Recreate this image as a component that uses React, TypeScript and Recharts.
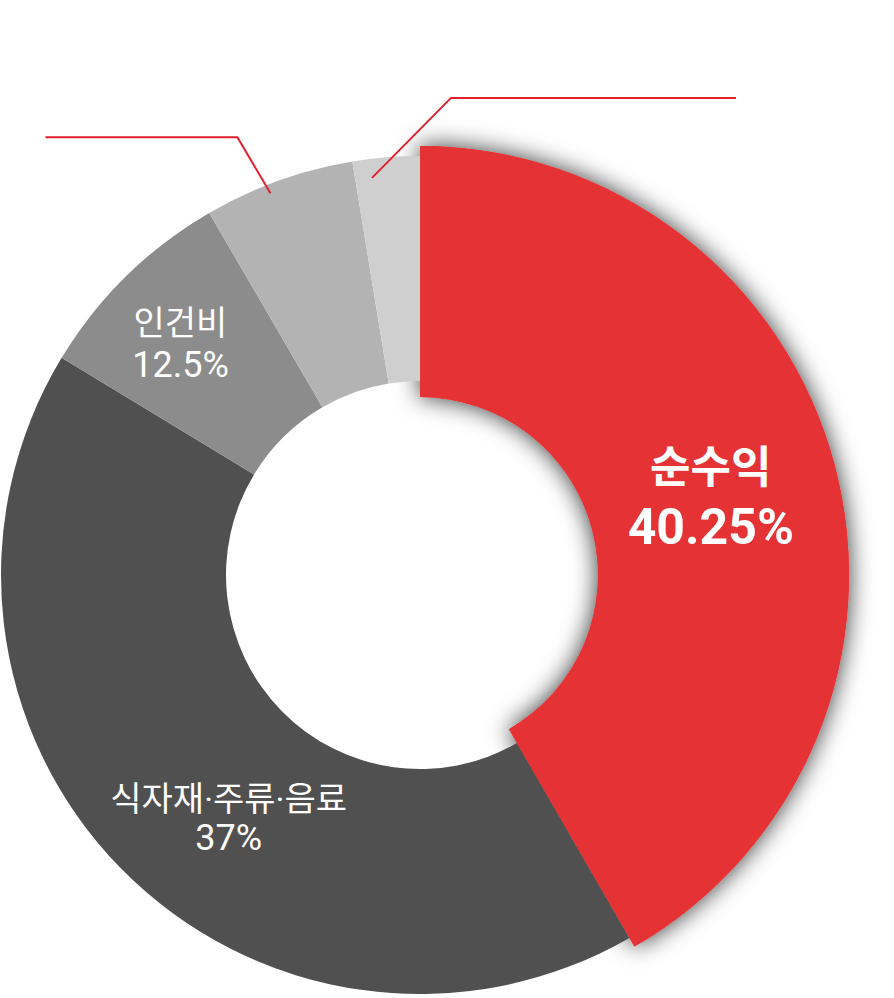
import React from 'react';
import { PieChart, Pie, Cell } from 'recharts';

const categories = ['순수익', '식자재·주류·음료', '인건비', '기타 A', '기타 B'];
const values = [41.67, 42.0, 7.94, 5.81, 2.58];
const percentLabels = ['40.25%', '37%', '12.5%', '', ''];
const colors = ['#e53335', '#505050', '#8c8c8c', '#b3b3b3', '#cfcfcf'];

const data = categories.map((name, i) => ({ name, value: values[i], pct: percentLabels[i] }));

const RAD = Math.PI / 180;
const FONT = 'Roboto, "Noto Sans CJK KR", "Noto Sans", sans-serif';

// label layout (radius, angle shift, font settings)
const textLayout: Record<number, { r: number; shift: number; size: number; size2: number; weight: number; weight2: number; gap: number }> = {
  0: { r: 301, shift: 0, size: 44, size2: 50, weight: 700, weight2: 700, gap: 59 },
  1: { r: 310, shift: 7.5, size: 34, size2: 36, weight: 400, weight2: 400, gap: 39 },
  2: { r: 333, shift: 1.5, size: 34, size2: 36, weight: 400, weight2: 400, gap: 42 },
};

const leaderLayout: Record<number, { r: number; shift: number; dx: number; dy: number; len: number }> = {
  3: { r: 410, shift: 1.65, dx: -33, dy: -56, len: -192 },
  4: { r: 400, shift: 2.25, dx: 79, dy: -80, len: 285 },
};

const polar = (cx: number, cy: number, r: number, angle: number) => ({
  x: cx + r * Math.cos(-angle * RAD),
  y: cy + r * Math.sin(-angle * RAD),
});

const renderLabel = (props: any) => {
  const { cx, cy, midAngle, index } = props;
  const t = textLayout[index];
  if (t) {
    const p = polar(cx, cy, t.r, midAngle + t.shift);
    return (
      <g key={`lbl-${index}`}>
        <text x={p.x} y={p.y - t.gap / 2} fill="#fff" textAnchor="middle" dominantBaseline="central"
          fontFamily={FONT} fontSize={t.size} fontWeight={t.weight}>
          {categories[index]}
        </text>
        <text x={p.x} y={p.y + t.gap / 2} fill="#fff" textAnchor="middle" dominantBaseline="central"
          fontFamily={FONT} fontSize={t.size2} fontWeight={t.weight2}>
          {percentLabels[index]}
        </text>
      </g>
    );
  }
  const l = leaderLayout[index];
  if (l) {
    const s = polar(cx, cy, l.r, midAngle + l.shift);
    const e = { x: s.x + l.dx, y: s.y + l.dy };
    const f = { x: e.x + l.len, y: e.y };
    return (
      <polyline key={`ld-${index}`} points={`${s.x},${s.y} ${e.x},${e.y} ${f.x},${f.y}`}
        fill="none" stroke="#e1202e" strokeWidth={2} />
    );
  }
  return null;
};

const renderRedLabel = (props: any) => (props.index === 0 ? renderLabel(props) : null);
const renderGrayLabel = (props: any) => (props.index !== 0 ? renderLabel(props) : null);

export default function App() {
  const CX = 420;
  const CY = 575;
  return (
    <div style={{ position: 'absolute', left: 0, top: 0, width: 894, height: 998, background: '#fff' }}>
      <PieChart width={894} height={998} margin={{ top: 0, right: 0, bottom: 0, left: 0 }}>
        <defs>
          <filter id="redShadow" x="-20%" y="-20%" width="140%" height="140%">
            <feDropShadow dx="0" dy="0" stdDeviation="12" floodColor="#000" floodOpacity="0.8" />
          </filter>
        </defs>
        {/* shadow layer for the highlighted slice */}
        <Pie data={data} dataKey="value" cx={CX} cy={CY} innerRadius={178} outerRadius={429}
          startAngle={90} endAngle={-270} isAnimationActive={false} stroke="none" labelLine={false}>
          {data.map((d, i) => (
            <Cell key={`s-${i}`} fill={i === 0 ? colors[0] : 'none'} stroke="none"
              filter={i === 0 ? 'url(#redShadow)' : undefined} />
          ))}
        </Pie>
        {/* gray ring */}
        <Pie data={data} dataKey="value" cx={CX} cy={CY} innerRadius={194} outerRadius={419}
          startAngle={90} endAngle={-270} isAnimationActive={false} stroke="none"
          label={renderGrayLabel} labelLine={false}>
          {data.map((d, i) => (
            <Cell key={`g-${i}`} fill={i === 0 ? 'none' : colors[i]} stroke="none" />
          ))}
        </Pie>
        {/* highlighted slice */}
        <Pie data={data} dataKey="value" cx={CX} cy={CY} innerRadius={178} outerRadius={429}
          startAngle={90} endAngle={-270} isAnimationActive={false} stroke="none"
          label={renderRedLabel} labelLine={false}>
          {data.map((d, i) => (
            <Cell key={`r-${i}`} fill={i === 0 ? colors[0] : 'none'} stroke="none" />
          ))}
        </Pie>
      </PieChart>
    </div>
  );
}
